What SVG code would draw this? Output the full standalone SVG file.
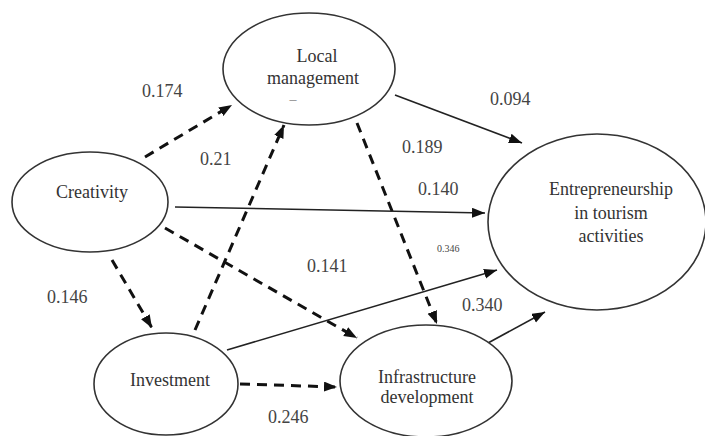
<svg xmlns="http://www.w3.org/2000/svg" width="705" height="436" viewBox="0 0 705 436">
<style>
.node ellipse{fill:#fff;stroke:#333;stroke-width:1.6}
text{font-family:"Liberation Serif","Tinos","DejaVu Serif",serif}
.lbl{font-size:18px;fill:#333;text-anchor:middle}
.solid{stroke:#222;stroke-width:1.6;fill:none}
.dash{stroke:#111;stroke-width:3;stroke-dasharray:10 7;fill:none}
.w{font-size:18px;fill:#444;text-anchor:start}
</style>
<defs>
<marker id="ah" markerUnits="userSpaceOnUse" markerWidth="14" markerHeight="11" refX="13" refY="5" orient="auto">
<path d="M0,0 L13,5 L0,10 z" fill="#111"/>
</marker>
</defs>
<rect width="705" height="436" fill="#fff"/>
<g id="connectors">
<line class="dash" x1="145" y1="157" x2="232" y2="105" marker-end="url(#ah)"/>
<line class="solid" x1="395" y1="95" x2="522" y2="143" marker-end="url(#ah)"/>
<line class="dash" x1="357" y1="123" x2="437" y2="324" marker-end="url(#ah)"/>
<line class="solid" x1="175" y1="207" x2="485" y2="213" marker-end="url(#ah)"/>
<line class="dash" x1="165" y1="228" x2="357" y2="338" marker-end="url(#ah)"/>
<line class="dash" x1="112" y1="260" x2="152" y2="328" marker-end="url(#ah)"/>
<line class="dash" x1="195" y1="330" x2="284" y2="125" marker-end="url(#ah)"/>
<line class="solid" x1="227" y1="350" x2="497" y2="270" marker-end="url(#ah)"/>
<line class="dash" x1="240" y1="384" x2="337" y2="387" marker-end="url(#ah)"/>
<line class="solid" x1="488" y1="343" x2="545" y2="312" marker-end="url(#ah)"/>
</g>
<g id="local-management" class="node">
<ellipse cx="309" cy="69" rx="86" ry="56"/>
<text class="lbl" x="317" y="62" font-family="Liberation Serif, serif">Local</text>
<text class="lbl" x="313" y="84">management</text>
<text class="lbl" x="293" y="104" style="font-size:14px;fill:#888">–</text>
</g>
<g id="creativity" class="node">
<ellipse cx="90" cy="202" rx="78" ry="50"/>
<text class="lbl" x="92" y="198">Creativity</text>
</g>
<g id="entrepreneurship" class="node">
<ellipse cx="597" cy="222" rx="109" ry="88"/>
<text class="lbl" x="611" y="195">Entrepreneurship</text>
<text class="lbl" x="611" y="219">in tourism</text>
<text class="lbl" x="611" y="242">activities</text>
</g>
<g id="investment" class="node">
<ellipse cx="166" cy="384" rx="72" ry="51"/>
<text class="lbl" x="170" y="386">Investment</text>
</g>
<g id="infrastructure" class="node">
<ellipse cx="426" cy="381" rx="86" ry="56"/>
<text class="lbl" x="427" y="383">Infrastructure</text>
<text class="lbl" x="427" y="403">development</text>
</g>
<g id="labels">
<text class="w" x="142" y="97">0.174</text>
<text class="w" x="200" y="165">0.21</text>
<text class="w" x="490" y="105">0.094</text>
<text class="w" x="402" y="153">0.189</text>
<text class="w" x="418" y="195">0.140</text>
<text class="w" x="437" y="252" style="font-size:10px">0.346</text>
<text class="w" x="307" y="272">0.141</text>
<text class="w" x="47" y="303">0.146</text>
<text class="w" x="462" y="311">0.340</text>
<text class="w" x="268" y="423">0.246</text>
</g>
</svg>
